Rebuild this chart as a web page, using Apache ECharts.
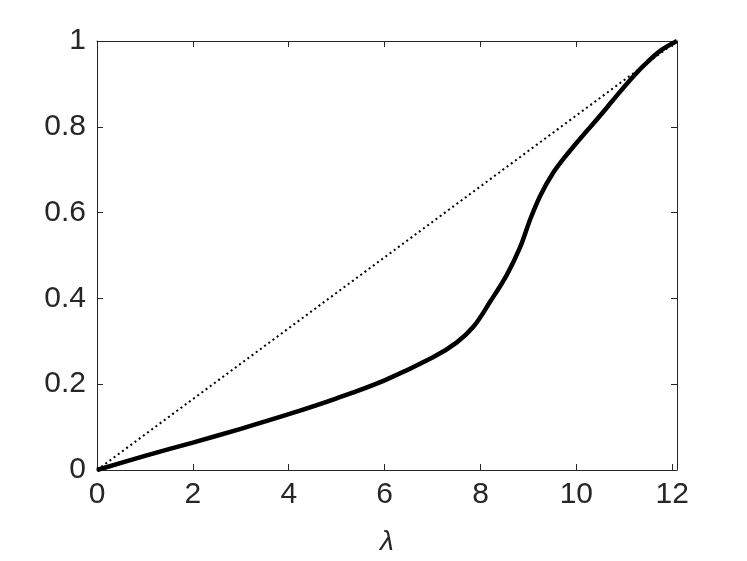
<!DOCTYPE html>
<html>
<head>
<meta charset="utf-8">
<script src="https://cdn.jsdelivr.net/npm/echarts@6/dist/echarts.min.js"></script>
<style>html,body{margin:0;padding:0;background:#fff}#c{width:747px;height:561px}</style>
</head>
<body>
<div id="c"></div>
<script>
const lambdaVals = [0, 1, 2, 3, 4, 5, 6, 7, 7.5, 7.86, 8.2, 8.55, 8.83, 9.04, 9.25, 9.5, 9.75, 10.1, 10.45, 10.75, 11.05, 11.41, 11.75, 12.1];
const curveVals  = [0, 0.033, 0.064, 0.096, 0.130, 0.167, 0.209, 0.262, 0.297, 0.335, 0.392, 0.455, 0.52, 0.585, 0.64, 0.69, 0.728, 0.775, 0.82, 0.86, 0.9, 0.943, 0.977, 1];
const diagX = [0, 12.1];
const diagY = [0, 1];
const xTicks = [0, 2, 4, 6, 8, 10, 12];
const yTicks = ['0', '0.2', '0.4', '0.6', '0.8', '1'];

const chart = echarts.init(document.getElementById('c'), null, {renderer: 'canvas'});
const axisColor = '#262626';
const font = 'Liberation Sans';
const baseAxis = {
  axisLine: {show: true, onZero: false, lineStyle: {color: axisColor, width: 1}},
  axisTick: {show: true, inside: true, length: 6, lineStyle: {color: axisColor, width: 1}},
  splitLine: {show: false}
};
chart.setOption({
  animation: false,
  backgroundColor: '#fff',
  grid: {left: 97, right: 70, top: 41, bottom: 83, containLabel: false},
  xAxis: [
    Object.assign({}, baseAxis, {
      type: 'value', min: 0, max: 12.1, interval: 2, position: 'bottom',
      name: 'λ', nameLocation: 'middle', nameGap: 58,
      nameTextStyle: {fontFamily: font, fontStyle: 'italic', fontSize: 28, color: axisColor},
      axisLabel: {margin: 10, fontFamily: font, fontSize: 30, color: axisColor,
        formatter: v => xTicks.includes(Math.round(v*1000)/1000) ? String(v) : ''}
    }),
    Object.assign({}, baseAxis, {
      type: 'value', min: 0, max: 12.1, interval: 2, position: 'top',
      axisLabel: {show: false}
    })
  ],
  yAxis: [
    Object.assign({}, baseAxis, {
      type: 'value', min: 0, max: 1, interval: 0.2, position: 'left',
      axisLabel: {margin: 11, fontFamily: font, fontSize: 30, color: axisColor,
        formatter: (v, i) => yTicks[i] !== undefined ? yTicks[i] : ''}
    }),
    Object.assign({}, baseAxis, {
      type: 'value', min: 0, max: 1, interval: 0.2, position: 'right',
      axisLabel: {show: false}
    })
  ],
  series: [
    {
      type: 'line', xAxisIndex: 0, yAxisIndex: 0, showSymbol: false,
      data: diagX.map((x, i) => [x, diagY[i]]),
      lineStyle: {color: '#000', width: 2, type: [2, 3.2]},
      z: 2
    },
    {
      type: 'line', xAxisIndex: 0, yAxisIndex: 0, showSymbol: false, smooth: 0.35,
      data: lambdaVals.map((x, i) => [x, curveVals[i]]),
      lineStyle: {color: '#000', width: 4.5},
      z: 3
    }
  ]
});
</script>
</body>
</html>
